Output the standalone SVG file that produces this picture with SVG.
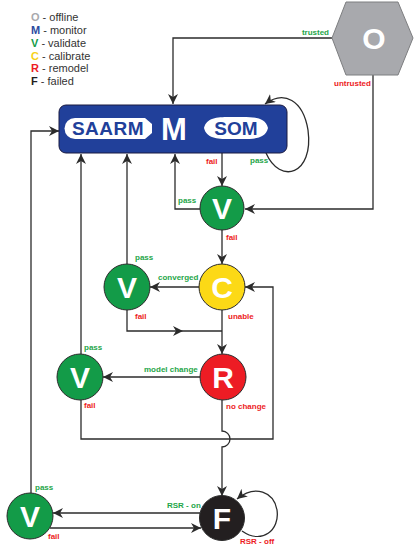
<svg xmlns="http://www.w3.org/2000/svg" width="414" height="550" viewBox="0 0 414 550">
<style>
text{font-family:"Liberation Sans",Arial,sans-serif}
.leg{font-size:11px;fill:#333}
.lb{font-weight:bold}
.lbl{font-size:8px;font-weight:bold}
.g{fill:#1fa64a}
.r{fill:#ed1c24}
.ln{fill:none;stroke:#2b2b2b;stroke-width:1.3}
.arr{marker-end:url(#ah)}
.node{stroke:#2b2b2b;stroke-width:1}
.let{font-size:30px;font-weight:bold;fill:#fff;text-anchor:middle}
.vf{fill:#139b48}
</style>
<defs>
<marker id="ah" markerUnits="userSpaceOnUse" markerWidth="10" markerHeight="10" refX="10" refY="5" orient="auto">
<path d="M0,0 L10,5 L0,10 L3,5 Z" fill="#2b2b2b"/>
</marker>
</defs>
<g id="legend">
<text class="leg" x="31" y="21"><tspan class="lb" fill="#a8a9ad">O</tspan> - offline</text>
<text class="leg" x="31" y="34"><tspan class="lb" fill="#2b4aa0">M</tspan> - monitor</text>
<text class="leg" x="31" y="47"><tspan class="lb" fill="#139b48">V</tspan> - validate</text>
<text class="leg" x="31" y="60"><tspan class="lb" fill="#f7d117">C</tspan> - calibrate</text>
<text class="leg" x="31" y="72"><tspan class="lb" fill="#ed1c24">R</tspan> - remodel</text>
<text class="leg" x="31" y="85"><tspan class="lb" fill="#231f20">F</tspan> - failed</text>
</g>
<g id="connectors">
<path class="ln arr" d="M332,38 H173 V104"/>
<path class="ln arr" d="M373,75 V209 H245"/>
<path class="ln arr" d="M266,153 C280,185 314,175 308,130 C303,100 284,90 265,104"/>
<path class="ln arr" d="M222,153 V186"/>
<path class="ln arr" d="M200,209 H175 V154"/>
<path class="ln arr" d="M222,230 V264"/>
<path class="ln arr" d="M200,287 H150"/>
<path class="ln arr" d="M127,264 V154"/>
<path class="ln arr" d="M127,310 V331 H183"/>
<path class="ln" d="M183,331 H222"/>
<path class="ln arr" d="M222,310 V354"/>
<path class="ln arr" d="M200,377 H103"/>
<path class="ln arr" d="M81,354 V154"/>
<path class="ln arr" d="M81,400 V439 H273 V287 H245"/>
<path class="ln arr" d="M222,400 V431 A8,8 0 0 1 222,447 V496"/>
<path class="ln arr" d="M200,513 H53"/>
<path class="ln arr" d="M50,528 H201"/>
<path class="ln arr" d="M31,493 V131 H59"/>
<path class="ln arr" d="M242,531 C262,545 280,530 277,510 C274,492 255,484 237,499"/>
<text class="lbl g" x="329" y="35" text-anchor="end">trusted</text>
<text class="lbl r" x="334" y="86">untrusted</text>
<text class="lbl r" x="206" y="164">fail</text>
<text class="lbl g" x="250" y="163">pass</text>
<text class="lbl g" x="178" y="203">pass</text>
<text class="lbl r" x="226" y="240">fail</text>
<text class="lbl g" x="135" y="260">pass</text>
<text class="lbl g" x="158" y="280">converged</text>
<text class="lbl r" x="135" y="319">fail</text>
<text class="lbl r" x="228" y="319">unable</text>
<text class="lbl g" x="84" y="350">pass</text>
<text class="lbl g" x="144" y="372">model change</text>
<text class="lbl r" x="84" y="408">fail</text>
<text class="lbl r" x="226" y="409">no change</text>
<text class="lbl g" x="35" y="490">pass</text>
<text class="lbl g" x="167" y="508">RSR - on</text>
<text class="lbl r" x="48" y="539">fail</text>
<text class="lbl r" x="240" y="544">RSR - off</text>
</g>
<g id="node-O">
<polygon points="332,38 346,2 398,2 413,38 398,75 346,75" fill="#a8a9ad" stroke="#7d7e80" stroke-width="1"/>
<text class="let" x="374" y="49">O</text>
</g>
<g id="node-M">
<rect x="59" y="105" width="228" height="48" rx="7" fill="#21409a" stroke="#1a1a40" stroke-width="1"/>
<path d="M75,118 H145 L152,124 V133 L145,139 H75 A10.5,10.5 0 0 1 75,118 Z" fill="#fff"/>
<text x="108" y="135" font-size="19" font-weight="bold" fill="#21409a" text-anchor="middle" letter-spacing="0.5">SAARM</text>
<text x="174" y="140" font-size="31" font-weight="bold" fill="#fff" text-anchor="middle">M</text>
<path d="M204,128 C207,116 220,117 236,117 C252,117 265,116 268,128 C265,140 252,139 236,139 C220,139 207,140 204,128 Z" fill="#fff"/>
<text x="236" y="135" font-size="19" font-weight="bold" fill="#21409a" text-anchor="middle">SOM</text>
</g>
<g id="node-V1">
<circle class="node vf" cx="222" cy="208" r="22"/>
<text class="let" x="222" y="219">V</text>
</g>
<g id="node-C">
<circle class="node" cx="222" cy="287" r="23" fill="#fcd916"/>
<text class="let" x="222" y="298">C</text>
</g>
<g id="node-V2">
<circle class="node vf" cx="127" cy="287" r="23"/>
<text class="let" x="127" y="298">V</text>
</g>
<g id="node-V3">
<circle class="node vf" cx="80" cy="377" r="23"/>
<text class="let" x="80" y="388">V</text>
</g>
<g id="node-R">
<circle class="node" cx="223" cy="377" r="23" fill="#ed1c24"/>
<text class="let" x="223" y="388">R</text>
</g>
<g id="node-F">
<circle class="node" cx="222" cy="518" r="22.5" fill="#231f20"/>
<text class="let" x="222" y="529">F</text>
</g>
<g id="node-V4">
<circle class="node vf" cx="30" cy="516" r="23"/>
<text class="let" x="30" y="527">V</text>
</g>
</svg>
